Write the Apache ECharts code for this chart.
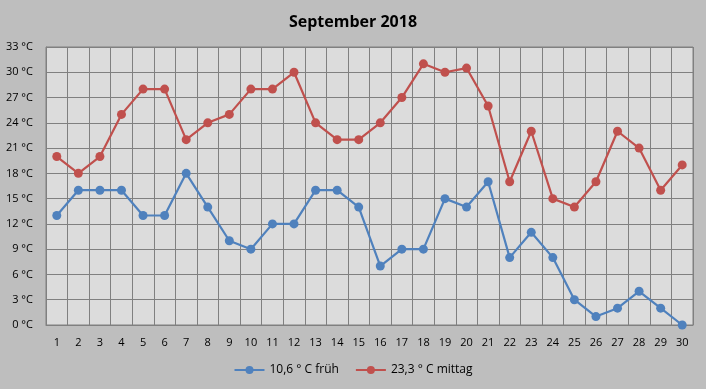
<!DOCTYPE html>
<html><head><meta charset="utf-8">
<script src="https://cdn.jsdelivr.net/npm/echarts@6/dist/echarts.min.js"></script>
<style>html,body{margin:0;padding:0;background:#BEBEBE;}#c{width:706px;height:389px;}</style>
</head><body><div id="c"></div>
<script>
const days = ['1','2','3','4','5','6','7','8','9','10','11','12','13','14','15','16','17','18','19','20','21','22','23','24','25','26','27','28','29','30'];
const frueh = [13,16,16,16,13,13,18,14,10,9,12,12,16,16,14,7,9,9,15,14,17,8,11,8,3,1,2,4,2,0];
const mittag = [20,18,20,25,28,28,22,24,25,28,28,30,24,22,22,24,27,31,30,30.5,26,17,23,15,14,17,23,21,16,19];
const seriesNames = ['10,6 ° C früh','23,3 ° C mittag'];
const titleText = 'September 2018';
const yMin = 0, yMax = 33, yStep = 3;

const chart = echarts.init(document.getElementById('c'), null, {renderer:'canvas'});
const font = 'Open Sans, Noto Sans, sans-serif';
chart.setOption({
  backgroundColor:'#BEBEBE',
  animation:false,
  title:{text:titleText,left:'center',top:9,textStyle:{fontFamily:font,fontSize:16,fontWeight:'bold',color:'#000'}},
  legend:{bottom:8,left:'center',itemWidth:30,itemHeight:10,itemGap:16,
    textStyle:{fontFamily:font,fontSize:12,color:'#000'},
    data:seriesNames},
  grid:{left:46,right:13,top:47,bottom:64,show:true,backgroundColor:'#DCDCDC',borderColor:'#808080',borderWidth:1},
  xAxis:{type:'category',data:days,boundaryGap:true,
    axisLine:{lineStyle:{color:'#808080'}},axisTick:{show:false},
    axisLabel:{color:'#000',fontFamily:font,fontSize:11,margin:12,interval:0},
    splitLine:{show:true,interval:0,lineStyle:{color:'#808080',width:1}}},
  yAxis:{type:'value',min:yMin,max:yMax,interval:yStep,
    axisLine:{show:true,lineStyle:{color:'#808080'}},axisTick:{show:false},
    axisLabel:{color:'#000',fontFamily:font,fontSize:11,margin:13,formatter:v=>v+' °C'},
    splitLine:{show:true,lineStyle:{color:'#808080',width:1}}},
  series:[
    {name:seriesNames[0],type:'line',data:frueh,symbol:'circle',symbolSize:9,
      itemStyle:{color:'#4F81BD'},lineStyle:{color:'#4F81BD',width:2.2}},
    {name:seriesNames[1],type:'line',data:mittag,symbol:'circle',symbolSize:9,
      itemStyle:{color:'#C0504D'},lineStyle:{color:'#C0504D',width:2.2}}
  ]
});
</script></body></html>
